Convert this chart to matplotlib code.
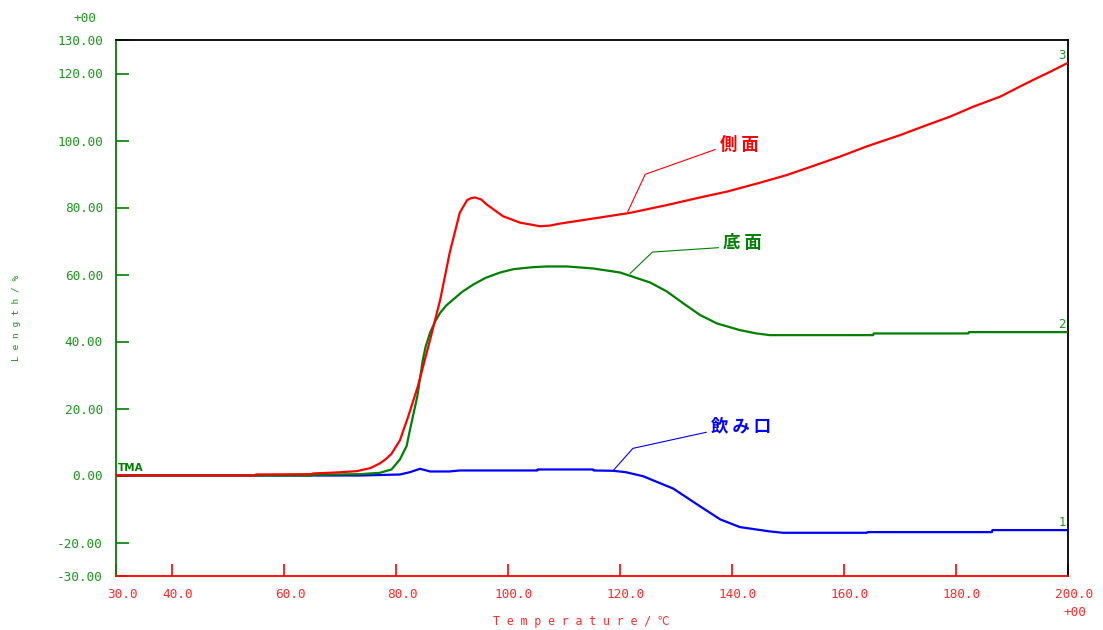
"""TMA length change of three cup parts vs temperature."""
import matplotlib
matplotlib.use("Agg")
import matplotlib.pyplot as plt
import matplotlib.transforms as mtransforms

# sample readings (temperature degC, length %)
side_T = [30.0, 54.8, 55.0, 65.0, 65.1, 69.4, 73.0, 75.4, 77.1, 78.2, 79.2,
          80.7, 81.3, 82.0, 83.9, 86.1, 87.9, 89.6, 91.4, 92.7, 93.4, 94.1,
          95.2, 96.2, 99.1, 102.1, 105.7, 107.5, 109.3, 115.2, 121.8, 128.3,
          134.3, 139.0, 145.0, 149.8, 154.5, 159.3, 164.0, 170.0, 174.8,
          178.9, 183.1, 187.9, 191.4, 193.8, 196.8, 200.0]
side_L = [0.0, 0.0, 0.3, 0.4, 0.6, 0.9, 1.3, 2.2, 3.6, 4.9, 6.5,
          10.5, 13.4, 16.7, 26.6, 40.6, 52.5, 66.6, 78.5, 82.2, 82.8, 83.0,
          82.4, 80.9, 77.4, 75.5, 74.4, 74.6, 75.2, 76.7, 78.4, 80.7,
          83.0, 84.7, 87.4, 89.7, 92.4, 95.2, 98.2, 101.6, 104.6,
          107.1, 110.1, 113.1, 116.1, 118.1, 120.5, 123.2]

bottom_T = [30.0, 65.0, 65.1, 73.6, 77.1, 79.2, 80.7, 81.9, 82.5, 83.8, 84.8,
            85.3, 86.1, 87.0, 87.9, 89.0, 90.2, 91.8, 93.8, 96.0, 98.6, 101.0,
            104.5, 107.0, 110.5, 115.2, 120.0, 125.4, 128.3, 131.3, 134.3,
            137.3, 141.4, 144.4, 146.8, 165.2, 165.3, 182.2, 182.3, 200.0]
bottom_L = [0.0, 0.0, 0.2, 0.4, 0.8, 1.8, 4.8, 8.8, 13.7, 23.6, 34.6,
            38.5, 42.7, 46.0, 48.6, 50.8, 52.5, 54.8, 57.0, 59.0, 60.6, 61.6,
            62.2, 62.4, 62.4, 61.8, 60.6, 57.6, 55.0, 51.4, 47.9,
            45.4, 43.4, 42.4, 41.9, 41.9, 42.4, 42.4, 42.8, 42.8]

rim_T = [30.0, 73.6, 80.7, 82.5, 84.3, 85.2, 86.1, 89.5, 91.4, 105.2, 105.3,
         115.2, 115.3, 118.8, 121.0, 124.1, 129.5, 134.3, 137.9, 141.4, 146.8,
         149.1, 164.1, 164.2, 186.4, 186.5, 200.0]
rim_L = [0.0, 0.0, 0.3, 1.0, 2.0, 1.6, 1.2, 1.2, 1.5, 1.5, 1.8,
         1.8, 1.5, 1.4, 1.0, -0.2, -3.9, -9.2, -13.1, -15.4, -16.7,
         -17.1, -17.1, -16.9, -16.9, -16.3, -16.3]

xticks = [30, 40, 60, 80, 100, 120, 140, 160, 180, 200]
xtick_labels = ["30.0", "40.0", "60.0", "80.0", "100.0", "120.0", "140.0",
                "160.0", "180.0", "200.0"]
yticks = [-30, -20, 0, 20, 40, 60, 80, 100, 120, 130]
ytick_labels = ["-30.00", "-20.00", "0.00", "20.00", "40.00", "60.00",
                "80.00", "100.00", "120.00", "130.00"]

RED = "#ff0000"
GREEN = "#008000"
BLUE = "#0000ff"
TXT_GREEN = "#1e961e"
TXT_RED = "#ff2a2a"
JP = ["Noto Sans CJK JP", "DejaVu Sans"]
MONO = ["DejaVu Sans Mono", "Noto Sans CJK JP"]

fig = plt.figure(figsize=(11.03, 6.30), dpi=100)
ax = fig.add_axes([116 / 1103, 1 - 576 / 630, 952 / 1103, 536 / 630])

ax.plot(rim_T, rim_L, color=BLUE, lw=1.6, zorder=3)
ax.plot(bottom_T, bottom_L, color=GREEN, lw=1.6, zorder=4)
ax.plot(side_T, side_L, color=RED, lw=1.6, zorder=5)

ax.set_xlim(30, 200)
ax.set_ylim(-30, 130)

ax.set_xticks(xticks)
ax.set_xticklabels(xtick_labels, family=MONO, fontsize=9.2, color=TXT_RED)
ax.set_yticks(yticks)
ax.set_yticklabels(ytick_labels, family=MONO, fontsize=9.2, color=TXT_GREEN)
ax.tick_params(axis="x", direction="in", length=9, width=1.2, colors=RED,
               labelcolor=TXT_RED, pad=8.5)
ax.tick_params(axis="y", direction="in", length=9, width=1.2, colors=GREEN,
               labelcolor=TXT_GREEN, pad=9.5)

# x labels sit a little right of their ticks
shift = mtransforms.ScaledTranslation(6 / 100, 0, fig.dpi_scale_trans)
for lab in ax.get_xticklabels():
    lab.set_transform(lab.get_transform() + shift)

ax.spines["left"].set_color(GREEN)
ax.spines["bottom"].set_color(RED)
ax.spines["top"].set_color("black")
ax.spines["right"].set_color("black")
for s in ax.spines.values():
    s.set_linewidth(1.3)

# callouts
ax.plot([121.4, 124.5, 137.0], [78.8, 89.9, 97.3], color=RED, lw=0.8)
ax.text(137.9, 98.6, "側 面", color=RED, fontsize=12.5, fontweight="bold",
        family=JP, ha="left", va="center")
ax.plot([121.8, 125.8, 137.6], [60.3, 66.7, 68.0], color=GREEN, lw=0.8)
ax.text(138.4, 69.4, "底 面", color=GREEN, fontsize=12.5, fontweight="bold",
        family=JP, ha="left", va="center")
ax.plot([118.8, 122.3, 135.4], [1.5, 8.1, 12.9], color=BLUE, lw=0.8)
ax.text(136.3, 14.6, "飲 み 口", color=BLUE, fontsize=12.5, fontweight="bold",
        family=JP, ha="left", va="center")

ax.text(30.3, 0.6, "TMA", color=GREEN, fontsize=7.5, fontweight="bold",
        ha="left", va="bottom")

# curve numbers at the right end
ax.text(199.6, side_L[-1] + 0.3, "3", color=TXT_GREEN, fontsize=8.5,
        ha="right", va="bottom")
ax.text(199.6, bottom_L[-1] + 0.3, "2", color=TXT_GREEN, fontsize=8.5,
        ha="right", va="bottom")
ax.text(199.6, rim_L[-1] + 0.3, "1", color=TXT_GREEN, fontsize=8.5,
        ha="right", va="bottom")

fig.text(85 / 1103, 1 - 18 / 630, "+00", color=TXT_GREEN, fontsize=9.2,
         family=MONO, ha="center", va="center")
fig.text(1075 / 1103, 1 - 612 / 630, "+00", color=TXT_RED, fontsize=9.2,
         family=MONO, ha="center", va="center")

fig.text(581 / 1103, 1 - 622 / 630, "T e m p e r a t u r e / ℃",
         color=TXT_RED, fontsize=8.3, family=MONO, ha="center", va="center")
fig.text(17 / 1103, 1 - 318 / 630, "L e n g t h / %", color=TXT_GREEN,
         fontsize=6.8, family=MONO, rotation=90, ha="center", va="center")

plt.savefig("out.png", dpi=100)
plt.close(fig)
